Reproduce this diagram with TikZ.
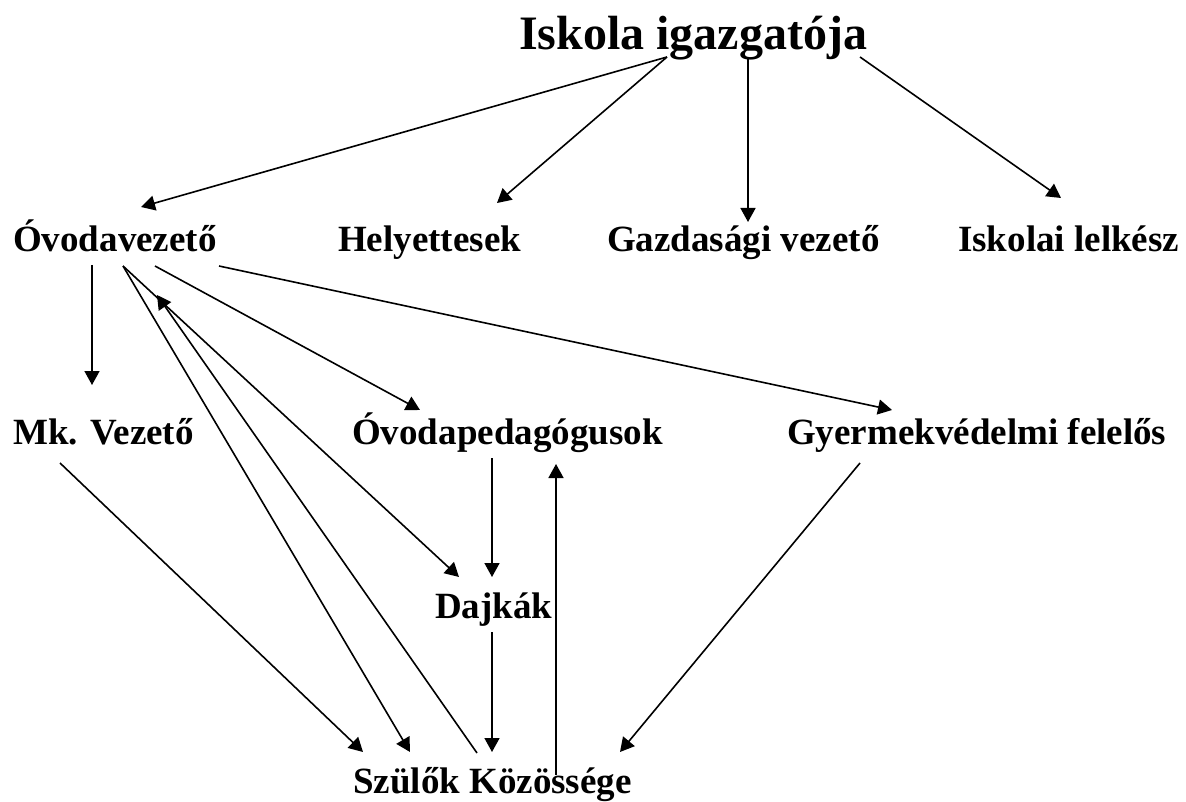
\documentclass[tikz,border=0pt]{standalone}
\usepackage{fontspec}
\setmainfont{Liberation Serif}[BoldFont={Liberation Serif Bold}]
\usetikzlibrary{arrows.meta}
\begin{document}
\begin{tikzpicture}[x=1pt,y=-1pt,
  lbl/.style={inner sep=0pt,anchor=base west,font=\bfseries\fontsize{37}{44}\selectfont},
  ttl/.style={inner sep=0pt,anchor=base west,font=\bfseries\fontsize{48}{56}\selectfont},
  arr/.style={line width=1.6pt,-{Triangle[length=14pt,width=15pt]}}]
\useasboundingbox[fill=white] (0,0) rectangle (1186,802);
\node[ttl] (T) at (519,50) {Iskola igazgatója};
\node[lbl] (ov) at (13,252) {Óvodavezető};
\node[lbl] (hely) at (338,252) {Helyettesek};
\node[lbl] (gazd) at (607,252) {Gazdasági vezető};
\node[lbl] (lelk) at (958,252) {Iskolai lelkész};
\node[lbl] (mk) at (13,444) {Mk. Vezető};
\node[lbl] (ped) at (352,444) {Óvodapedagógusok};
\node[lbl] (gyer) at (787,444) {Gyermekvédelmi felelős};
\node[lbl] (daj) at (435,618) {Dajkák};
\node[lbl] (szul) at (353,793) {Szülők Közössége};
% from the head
\draw[arr] ([shift={(148,7)}]T.base west) -- ([shift={(128,-45)}]ov.base west);
\draw[arr] ([shift={(148,7)}]T.base west) -- ([shift={(159,-49)}]hely.base west);
\draw[arr] ([shift={(229,7)}]T.base west) -- ([shift={(141,-30)}]gazd.base west);
\draw[arr] ([shift={(341,7)}]T.base west) -- ([shift={(103,-54)}]lelk.base west);
% from Ovodavezeto
\draw[arr] ([shift={(79,13)}]ov.base west) -- ([shift={(79,-59)}]mk.base west);
\draw[arr] ([shift={(110,14)}]ov.base west) -- ([shift={(24,-41)}]daj.base west);
\draw[arr] ([shift={(110,14)}]ov.base west) -- ([shift={(57,-41)}]szul.base west);
\draw[arr] ([shift={(142,14)}]ov.base west) -- ([shift={(68,-34)}]ped.base west);
\draw[arr] ([shift={(206,14)}]ov.base west) -- ([shift={(105,-34)}]gyer.base west);
% from Szulok
\draw[arr] ([shift={(124,-40)}]szul.base west) -- ([shift={(144,43)}]ov.base west);
\draw[arr] ([shift={(203,-18)}]szul.base west) -- ([shift={(204,20)}]ped.base west);
% others
\draw[arr] ([shift={(140,14)}]ped.base west) -- ([shift={(57,-41)}]daj.base west);
\draw[arr] ([shift={(57,14)}]daj.base west) -- ([shift={(139,-41)}]szul.base west);
\draw[arr] ([shift={(47,19)}]mk.base west) -- ([shift={(10,-41)}]szul.base west);
\draw[arr] ([shift={(73,19)}]gyer.base west) -- ([shift={(267,-41)}]szul.base west);
\end{tikzpicture}
\end{document}
